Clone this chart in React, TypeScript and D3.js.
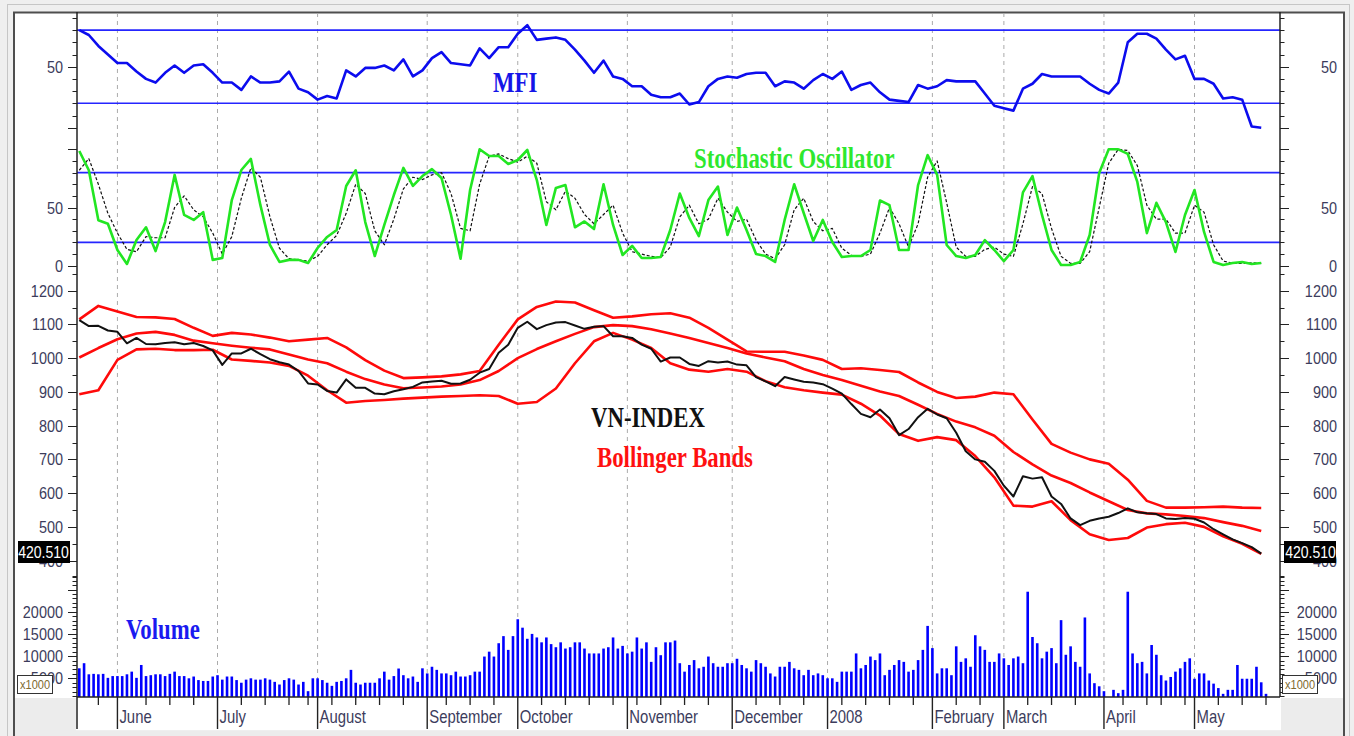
import { useEffect, useRef } from 'react';
import * as d3 from 'd3';

// trading sessions, late May 2007 .. end of May 2008
const dayCount = 250;
const monthNames = ['June', 'July', 'August', 'September', 'October', 'November', 'December', '2008', 'February', 'March', 'April', 'May'];
const monthStarts = [8, 29, 50, 73, 92, 115, 137, 157, 179, 194, 215, 234];
const weekTicks = [4, 14, 19, 24, 34, 39, 44, 48, 53, 58, 63, 68, 77, 82, 87, 97, 102, 107, 112, 117, 122, 127, 132, 142, 147, 152, 160, 165, 170, 175, 184, 189, 199, 204, 209, 219, 224, 227, 232, 239, 244, 249];

// lines below are sampled every 2 sessions
const lineStep = 2;
const closePrices = [
  1113, 1095, 1096, 1082, 1078, 1044, 1060, 1042, 1041, 1045,
  1047, 1041, 1045, 1036, 1023, 980, 1014, 1014, 1028, 1012,
  997, 988, 981, 962, 925, 922, 903, 898, 937, 912,
  912, 895, 893, 902, 908, 915, 928, 931, 933, 924,
  925, 936, 957, 968, 1016, 1040, 1090, 1108, 1086, 1098,
  1106, 1107, 1097, 1087, 1093, 1095, 1065, 1065, 1060, 1040,
  1028, 990, 1002, 1002, 983, 977, 991, 987, 990, 981,
  979, 944, 931, 917, 944, 937, 930, 928, 923, 910,
  895, 864, 835, 825, 848, 822, 772, 790, 825, 850,
  833, 822, 779, 724, 700, 693, 666, 622, 590, 650,
  643, 647, 590, 568, 525, 505, 518, 525, 530, 541,
  555, 543, 540, 538, 525, 523, 526, 524, 513, 493,
  478, 463, 452, 440, 420.51,
];
const mfiValues = [
  80, 76, 67, 60, 53, 53, 46, 40, 37, 45,
  51, 45, 51, 52, 45, 37, 37, 31, 42, 37,
  37, 38, 46, 32, 29, 23, 26, 24, 47, 42,
  49, 49, 51, 47, 56, 42, 47, 57, 62, 53,
  52, 51, 65, 57, 66, 66, 77, 84, 72, 73,
  74, 72, 64, 55, 45, 55, 42, 40, 34, 34,
  27, 25, 25, 28, 19, 21, 34, 40, 42, 41,
  44, 45, 45, 34, 38, 37, 32, 39, 44, 40,
  46, 31, 35, 37, 29, 23, 22, 21, 35, 32,
  34, 39, 38, 38, 38, 28, 18, 16, 14, 32,
  36, 44, 42, 42, 42, 42, 36, 31, 28, 37,
  70, 77, 77, 73, 64, 56, 59, 40, 40, 36,
  24, 25, 23, 1, 0,
];
const stochK = [
  98.5, 82, 39, 36, 13.5, 1.5, 22, 33, 12.6, 37.5,
  78, 43.6, 39.3, 46, 5, 6.6, 56.4, 82.2, 91.7, 52,
  17.8, 3.2, 5, 5, 2.3, 15.2, 24.7, 30.7, 68.5, 82,
  37.5, 8.3, 35, 60.7, 84, 68.5, 77, 83, 75.4, 43.6,
  6, 65, 100, 94.2, 94.2, 87.4, 90.8, 99.4, 73.6, 35,
  66.8, 69.3, 33, 38, 31.5, 70, 35, 9.2, 17, 6.6,
  6.6, 7.5, 30.7, 62, 41, 25.5, 56.4, 68, 26.4, 50,
  30.7, 10, 8.3, 3.2, 39.3, 70, 45.3, 21.2, 39.3, 20.4,
  7.5, 8.3, 8.3, 13.5, 56, 52, 13.5, 13.5, 69.3, 95,
  78, 17.8, 8.3, 6.6, 9.2, 22, 13.5, 4, 13.5, 63,
  77, 43.6, 13.5, 0.6, 0.6, 3.2, 26.4, 79.6, 100, 100,
  96, 72, 28, 54, 37.5, 11.8, 43.6, 65, 29, 3.2,
  0.6, 2.3, 3.2, 1.5, 2.3,
];
const stochD = [
  82, 92, 70, 45, 28, 14, 12, 25, 24, 24,
  50, 60, 48, 42, 28, 10, 25, 58, 84, 76,
  42, 15, 6, 5, 4, 8, 18, 26, 45, 70,
  62, 30, 18, 40, 66, 76, 74, 78, 80, 62,
  32, 30, 70, 94, 96, 92, 89, 94, 88, 55,
  48, 64, 58, 44, 36, 44, 52, 28, 12, 10,
  8, 7, 16, 42, 52, 36, 40, 58, 46, 38,
  40, 22, 10, 6, 18, 48, 58, 38, 30, 32,
  15, 9, 8, 10, 28, 50, 36, 16, 36, 76,
  90, 54, 16, 8, 8, 14, 16, 10, 8, 36,
  68, 62, 32, 8, 2, 2, 12, 50, 88, 100,
  99, 86, 52, 40, 40, 28, 28, 52, 46, 18,
  4, 2, 2, 2.5, 2,
];

// Bollinger bands, every 4 sessions
const bandStep = 4;
const upperBand = [
  1115, 1155, 1138, 1122, 1121, 1116, 1090, 1066, 1075, 1070,
  1061, 1050, 1055, 1060, 1032, 994, 963, 941, 943, 946,
  952, 962, 1040, 1115, 1152, 1168, 1165, 1142, 1120, 1124,
  1130, 1133, 1120, 1090, 1055, 1020, 1019, 1019, 1008, 995,
  968, 970, 965, 959, 928, 900, 882, 886, 898, 893,
  818, 746, 720, 700, 687, 640, 577, 557, 557, 558,
  560, 557, 556,
];
const middleBand = [
  1002, 1030, 1056, 1073, 1078, 1069, 1052, 1044, 1037, 1031,
  1026, 1011, 996, 985, 960, 938, 922, 911, 913, 916,
  922, 935, 962, 1000, 1027, 1050, 1072, 1092, 1098, 1095,
  1086, 1073, 1060, 1045, 1030, 1014, 1002, 991, 968, 950,
  935, 918, 901, 888, 862, 835, 812, 795, 770, 722,
  685, 652, 630, 602, 576, 550, 540, 537, 532, 526,
  514, 503, 488,
];
const lowerBand = [
  893, 905, 995, 1026, 1028, 1024, 1024, 1025, 996, 992,
  987, 977, 948, 905, 868, 873, 876, 880, 883, 886,
  888, 890, 888, 865, 870, 910, 985, 1050, 1075, 1055,
  1030, 985, 966, 960, 968, 960, 932, 914, 905, 898,
  892, 865, 830, 775, 755, 766, 757, 710, 647, 563,
  560, 576, 520, 478, 461, 467, 498, 508, 512, 500,
  472, 450, 420,
];

// volume, x1000, one per session
const volumes = [
  7250, 8400, 5900, 6000, 5900, 6000, 5100, 5500, 5500, 5500,
  5900, 6500, 5100, 8000, 5500, 5700, 5900, 5900, 5500, 6000,
  6500, 5500, 5500, 5000, 5400, 4600, 4400, 4400, 5400, 5700,
  4700, 5400, 5400, 4600, 4000, 4700, 5000, 4700, 4700, 5000,
  4700, 4200, 3600, 4600, 5000, 4700, 3600, 4200, 2100, 5000,
  5000, 4600, 4000, 3300, 4200, 4400, 5000, 6900, 4000, 3600,
  4000, 4000, 4000, 5000, 6500, 4700, 5500, 7200, 5700, 5000,
  5400, 4200, 7250, 6100, 7600, 6900, 6100, 6100, 5700, 6500,
  5400, 5400, 5700, 6500, 6500, 9900, 11000, 9900, 12900, 14500,
  11400, 14500, 18300, 16400, 13900, 15000, 14200, 13100, 14200, 12700,
  12000, 13100, 11700, 12000, 13100, 13100, 11700, 10600, 10600, 10600,
  11700, 12000, 14200, 11700, 12300, 10600, 11000, 14200, 11700, 13100,
  8700, 12000, 10200, 13100, 13100, 13500, 8400, 6500, 8000, 9100,
  7250, 7600, 9900, 8400, 7600, 7600, 8400, 8400, 9400, 8000,
  7250, 6500, 9100, 8400, 7600, 6100, 5400, 7600, 7600, 8700,
  7250, 6900, 5700, 6900, 5700, 6100, 5700, 5000, 5000, 4200,
  6500, 6500, 6500, 10600, 7250, 8000, 9900, 9100, 10600, 5700,
  6900, 8000, 9100, 8700, 6500, 6900, 9100, 11400, 16800, 11800,
  6100, 7250, 7250, 5700, 12200, 8700, 9500, 7600, 14700, 12200,
  11400, 8700, 8700, 10600, 9500, 8000, 9500, 9900, 8400, 24500,
  14300, 12900, 9500, 11000, 11800, 8400, 18100, 10300, 12200, 8700,
  7600, 18700, 6100, 3900, 3200, 2100, 0, 2400, 1650, 2400,
  24500, 10600, 8400, 8700, 6100, 12500, 10300, 5700, 4500, 5300,
  6500, 7250, 8700, 9500, 4900, 6100, 6100, 4500, 3800, 2800,
  1500, 2400, 2400, 8000, 4900, 4900, 4900, 7600, 4100, 1500,
];
const lastClose = '420.510';

const mfiTicks = [0, 10, 20, 30, 40, 50, 60, 70, 80, 90];
const stochTicks = [0, 10, 20, 30, 40, 50, 60, 70, 80, 90, 100];
const priceTicks = d3.range(350, 1251, 50);
const volTicks = d3.range(1000, 28001, 1000);

export default function App() {
  const ref = useRef<SVGSVGElement | null>(null);

  useEffect(() => {
    const W = 1354, H = 736;
    const left = 77, right = 1280, axisY = 697;
    const svg = d3.select(ref.current);
    svg.selectAll('*').remove();

    const x = d3.scaleLinear().domain([0, dayCount - 1]).range([79.3, 1266]);
    const yMfi = d3.scaleLinear().domain([0, 100]).range([127.7, 5.7]);
    const yStoch = d3.scaleLinear().domain([0, 100]).range([265.7, 149.3]);
    const yPrice = d3.scaleLinear().domain([400, 1200]).range([560.6, 290.7]);
    const yVol = d3.scaleLinear().domain([0, 20000]).range([700.5, 611.7]);

    const numFont = 'Liberation Sans, Arial, sans-serif';
    const titleFont = 'Liberation Serif, Times New Roman, serif';
    const labelColor = '#3c3c5c';

    // window frame
    svg.append('rect').attr('width', W).attr('height', H).attr('fill', '#efefef');
    svg.append('rect').attr('x', 7.5).attr('y', 4.5).attr('width', W - 12).attr('height', H)
      .attr('fill', 'none').attr('stroke', '#c6c6c6');
    svg.append('rect').attr('x', 14).attr('y', 12).attr('width', 1330).attr('height', 718).attr('fill', '#fff');
    svg.append('rect').attr('x', 15).attr('y', axisY + 1).attr('width', left - 16).attr('height', 40).attr('fill', '#ececec');
    svg.append('rect').attr('x', right + 1).attr('y', axisY + 1).attr('width', 63).attr('height', 40).attr('fill', '#ececec');
    svg.append('rect').attr('x', 15).attr('y', 731).attr('width', 1329).attr('height', 6).attr('fill', '#ececec');
    svg.append('path').attr('d', `M14,736V12.5H1344V736`).attr('fill', 'none').attr('stroke', '#4e4e4e').attr('stroke-width', 2);

    // month grid
    svg.append('g').selectAll('line').data(monthStarts).join('line')
      .attr('x1', d => x(d)).attr('x2', d => x(d)).attr('y1', 13).attr('y2', axisY)
      .attr('stroke', '#ababab').attr('stroke-dasharray', '4,4');

    // reference levels
    const refs = [yMfi(80), yMfi(20), yStoch(80), yStoch(20)];
    svg.append('g').selectAll('line').data(refs).join('line')
      .attr('x1', left).attr('x2', right).attr('y1', d => d).attr('y2', d => d)
      .attr('stroke', '#2525ff').attr('stroke-width', 1.6);

    svg.append('clipPath').attr('id', 'plotclip').append('rect')
      .attr('x', left).attr('y', 12).attr('width', right - left).attr('height', axisY - 12);
    const plot = svg.append('g').attr('clip-path', 'url(#plotclip)');

    // volume
    plot.append('g').selectAll('rect').data(volumes).join('rect')
      .attr('x', (d, i) => x(i) - 1.3).attr('y', d => yVol(d))
      .attr('width', 2.6).attr('height', d => Math.max(0, axisY - yVol(d)))
      .attr('fill', '#0000ff');

    const drawLine = (vals: number[], step: number, y: d3.ScaleLinear<number, number>, color: string, width: number, dash?: string) => {
      const gen = d3.line<number>().x((d, k) => x(k * step)).y(d => y(d));
      const p = plot.append('path').attr('d', gen(vals)).attr('fill', 'none')
        .attr('stroke', color).attr('stroke-width', width).attr('stroke-linejoin', 'round');
      if (dash) p.attr('stroke-dasharray', dash);
    };

    drawLine(mfiValues, lineStep, yMfi, '#0c0cee', 2.6);
    drawLine(stochD, lineStep, yStoch, '#111', 1.2, '3,2');
    drawLine(stochK, lineStep, yStoch, '#22e622', 2.6);
    drawLine(upperBand, bandStep, yPrice, '#ff0a0a', 2.6);
    drawLine(middleBand, bandStep, yPrice, '#ff0a0a', 2.6);
    drawLine(lowerBand, bandStep, yPrice, '#ff0a0a', 2.6);
    drawLine(closePrices, lineStep, yPrice, '#111', 2);

    // axes
    svg.append('line').attr('x1', left).attr('x2', left).attr('y1', 12).attr('y2', 729).attr('stroke', '#222').attr('stroke-width', 1.5);
    svg.append('line').attr('x1', right).attr('x2', right).attr('y1', 12).attr('y2', axisY).attr('stroke', '#222').attr('stroke-width', 1.5);
    svg.append('line').attr('x1', left).attr('x2', right).attr('y1', axisY).attr('y2', axisY).attr('stroke', '#222').attr('stroke-width', 1.5);

    const axisG = svg.append('g');
    const addTicks = (vals: number[], y: d3.ScaleLinear<number, number>, isMajor: (v: number) => boolean, labels: number[]) => {
      vals.forEach(v => {
        const len = isMajor(v) ? 9 : 4.5;
        const yy = Math.round(y(v)) + 0.5;
        axisG.append('line').attr('x1', left - len).attr('x2', left).attr('y1', yy).attr('y2', yy).attr('stroke', '#222');
        axisG.append('line').attr('x1', right).attr('x2', right + len).attr('y1', yy).attr('y2', yy).attr('stroke', '#222');
      });
      labels.forEach(v => {
        [63, 1337].forEach(tx => {
          axisG.append('text').text(String(v))
            .attr('transform', `translate(${tx},${y(v) + 6}) scale(0.85,1)`)
            .attr('text-anchor', 'end').attr('font-family', numFont).attr('font-size', 17)
            .attr('fill', labelColor);
        });
      });
    };
    addTicks(mfiTicks, yMfi, v => v % 50 === 0, [50]);
    addTicks(stochTicks, yStoch, v => v % 50 === 0, [0, 50]);
    addTicks(priceTicks, yPrice, v => v % 100 === 0, [400, 500, 600, 700, 800, 900, 1000, 1100, 1200]);
    addTicks(volTicks, yVol, v => v % 5000 === 0, [5000, 10000, 15000, 20000]);

    // last close boxes
    [[18, 43.5], [1284, 1310.5]].forEach(([bx, cx]) => {
      axisG.append('rect').attr('x', bx).attr('y', 541).attr('width', 52).attr('height', 22).attr('fill', '#000');
      axisG.append('text').text(lastClose)
        .attr('transform', `translate(${cx},${557.5}) scale(0.85,1)`)
        .attr('text-anchor', 'middle').attr('font-family', numFont).attr('font-size', 16.5).attr('fill', '#fff');
    });
    // x1000 boxes
    [17.5, 1282.5].forEach(bx => {
      axisG.append('rect').attr('x', bx).attr('y', 675.5).attr('width', 35).attr('height', 18)
        .attr('fill', '#fff').attr('stroke', '#333');
      axisG.append('text').text('x1000')
        .attr('transform', `translate(${bx + 17.5},${689}) scale(0.85,1)`)
        .attr('text-anchor', 'middle').attr('font-family', numFont).attr('font-size', 13).attr('fill', '#806a30');
    });

    // time axis
    weekTicks.forEach(i => {
      axisG.append('line').attr('x1', x(i)).attr('x2', x(i)).attr('y1', axisY).attr('y2', axisY + 8).attr('stroke', '#222').attr('stroke-width', 1.3);
    });
    monthStarts.forEach((i, k) => {
      axisG.append('line').attr('x1', x(i)).attr('x2', x(i)).attr('y1', axisY).attr('y2', 729).attr('stroke', '#222').attr('stroke-width', 1.4);
      axisG.append('text').text(monthNames[k])
        .attr('transform', `translate(${x(i) + 2},723) scale(0.85,1)`)
        .attr('font-family', numFont).attr('font-size', 17.5).attr('fill', labelColor);
    });

    // panel titles
    const titles: [string, number, number, string][] = [
      ['MFI', 493, 92, '#1515e8'],
      ['Stochastic Oscillator', 694, 168, '#2ee82e'],
      ['VN-INDEX', 591, 427, '#111'],
      ['Bollinger Bands', 597, 467, '#ff1010'],
      ['Volume', 126, 639, '#1a1af0'],
    ];
    titles.forEach(([t, tx, ty, c]) => {
      svg.append('text').text(t)
        .attr('transform', `translate(${tx},${ty}) scale(0.76,1)`)
        .attr('font-family', titleFont).attr('font-weight', 'bold').attr('font-size', 30).attr('fill', c);
    });

    return () => {
      d3.select(ref.current).selectAll('*').remove();
    };
  }, []);

  return (
    <svg ref={ref} width={1354} height={736} style={{ position: 'absolute', left: 0, top: 0, display: 'block' }} />
  );
}
